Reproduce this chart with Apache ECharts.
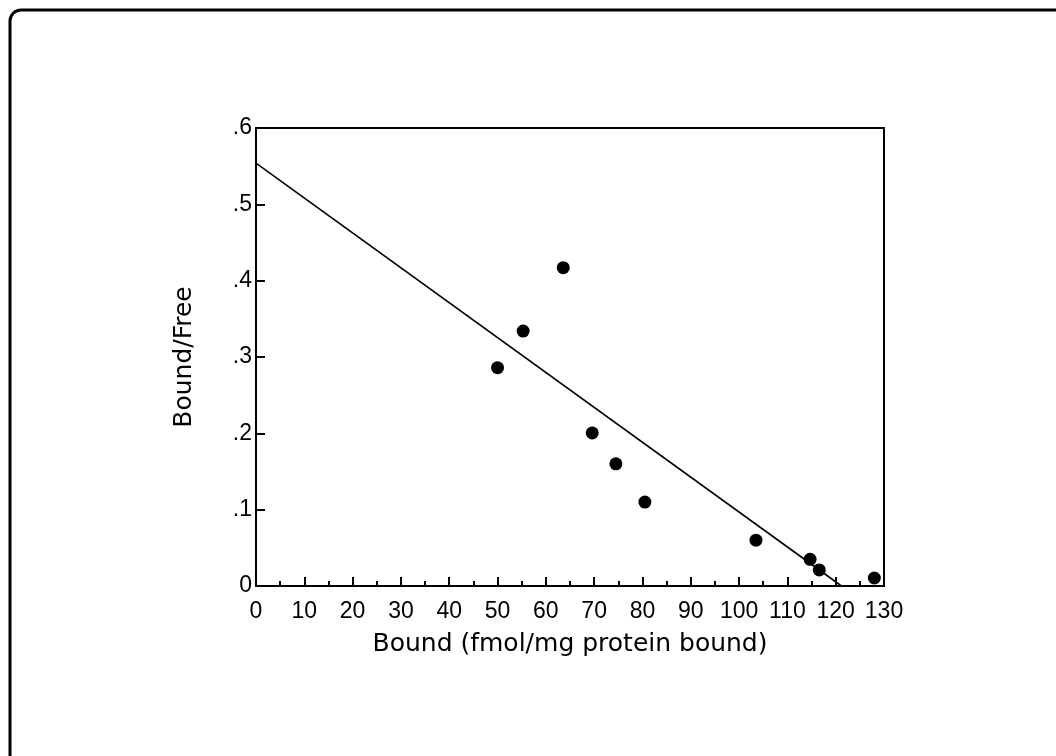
<!DOCTYPE html>
<html>
<head>
<meta charset="utf-8">
<script src="https://cdn.jsdelivr.net/npm/echarts@6/dist/echarts.min.js"></script>
<style>
html,body{margin:0;padding:0;background:#fff;}
#chart{width:1056px;height:756px;}
</style>
</head>
<body>
<div id="chart"></div>
<script>
// Data
var boundX = [50, 55.3, 63.6, 69.6, 74.5, 80.5, 103.5, 114.7, 116.6, 128];
var boundFreeY = [0.286, 0.334, 0.417, 0.2005, 0.160, 0.110, 0.060, 0.035, 0.021, 0.0105];
var fitLineX = [0, 121.2];
var fitLineY = [0.554, 0];
var yTickLabels = ['0', '.1', '.2', '.3', '.4', '.5', '.6'];
var xAxisTitle = 'Bound (fmol/mg protein bound)';
var yAxisTitle = 'Bound/Free';

var FONT = 'Liberation Sans';
var NAME_FONT = 'DejaVu Sans';
var chart = echarts.init(document.getElementById('chart'), null, {renderer: 'canvas'});

var scatterData = boundX.map(function (x, i) { return [x, boundFreeY[i]]; });
var lineData = fitLineX.map(function (x, i) { return [x, fitLineY[i]]; });

chart.setOption({
  animation: false,
  backgroundColor: '#fff',
  graphic: [{
    type: 'rect',
    shape: {x: 10, y: 10, width: 1200, height: 900, r: 11},
    style: {fill: 'none', stroke: '#000', lineWidth: 3},
    silent: true
  }],
  grid: {
    left: 256, right: 172, top: 128, bottom: 170,
    show: true, borderColor: '#000', borderWidth: 2,
    outerBoundsMode: 'none'
  },
  xAxis: {
    type: 'value', min: 0, max: 130, interval: 10,
    name: xAxisTitle, nameLocation: 'middle', nameGap: 46,
    nameTextStyle: {fontFamily: NAME_FONT, fontSize: 25, color: '#000'},
    axisLine: {show: true, onZero: false, lineStyle: {color: '#000', width: 2}},
    axisTick: {show: true, inside: true, length: 9, lineStyle: {color: '#000', width: 2}},
    minorTick: {show: true, splitNumber: 2, length: 5, lineStyle: {color: '#000', width: 2}},
    axisLabel: {fontFamily: FONT, fontSize: 23, color: '#000', margin: 14},
    splitLine: {show: false}, minorSplitLine: {show: false}
  },
  yAxis: {
    type: 'value', min: 0, max: 0.6, interval: 0.1,
    name: yAxisTitle, nameLocation: 'middle', nameGap: 59, nameRotate: 90,
    nameTextStyle: {fontFamily: NAME_FONT, fontSize: 25, color: '#000'},
    axisLine: {show: true, onZero: false, lineStyle: {color: '#000', width: 2}},
    axisTick: {show: true, inside: true, length: 9, lineStyle: {color: '#000', width: 2}},
    axisLabel: {
      fontFamily: FONT, fontSize: 23, color: '#000', margin: 4,
      formatter: function (v) { return yTickLabels[Math.round(v * 10)]; }
    },
    splitLine: {show: false}
  },
  series: [{
    type: 'line',
    data: lineData,
    showSymbol: false,
    symbol: 'none',
    lineStyle: {color: '#000', width: 1.6},
    clip: true,
    z: 2
  }, {
    type: 'scatter',
    data: scatterData,
    symbol: 'circle',
    symbolSize: 13,
    itemStyle: {color: '#000', opacity: 1},
    z: 3
  }]
});
</script>
</body>
</html>
